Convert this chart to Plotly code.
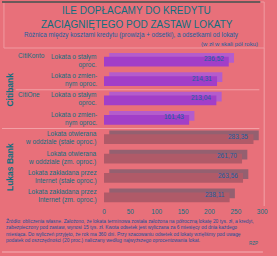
import plotly.graph_objects as go

categories = ["Lokata o stałym<br>oproc.", "Lokata o zmien-<br>nym oproc.",
              "Lokata o stałym<br>oproc.", "Lokata o zmien-<br>nym oproc.",
              "Lokata otwierana<br>w oddziale (stałe oproc.)", "Lokata otwierana<br>w oddziale (zm. oproc.)",
              "Lokata zakładana przez<br>Internet (stałe oproc.)", "Lokata zakładana przez<br>Internet (zm. oproc.)"]
values = [236.52, 214.31, 213.04, 161.43, 283.35, 261.70, 263.56, 238.11]
value_labels = ["236,52", "214,31", "213,04", "161,43", "283,35", "261,70", "263,56", "238,11"]
banks = ["Citibank"] * 4 + ["Lukas Bank"] * 4
products = ["CitiKonto", "", "CitiOne", "", "", "", "", ""]
x_ticks = [0, 50, 100, 150, 200, 250, 300]

BG = "#E8707A"
TEAL = "#0F6F80"
front = ["#A23EC8" if b == "Citibank" else "#B05A68" for b in banks]
side = ["#B45CCC" if b == "Citibank" else "#946070" for b in banks]

ids = list(range(len(categories)))
fig = go.Figure()
# depth (3D top/side) bar
fig.add_trace(go.Bar(y=ids, x=values, base=10, orientation="h", width=0.5, offset=-0.4,
                     marker=dict(color=side, line=dict(width=0)), hoverinfo="skip"))
fig.add_trace(go.Bar(y=ids, x=values, orientation="h", width=0.5, offset=-0.2,
                     marker=dict(color=front, line=dict(width=0)),
                     text=value_labels, textposition="none"))

fig.update_layout(
    width=277, height=256, margin=dict(l=0, r=0, t=0, b=0),
    paper_bgcolor=BG, plot_bgcolor=BG, showlegend=False, barmode="overlay",
    font=dict(family="Liberation Sans", color=TEAL, size=7),
    xaxis=dict(domain=[105/277, 268/277], range=[0, 300], tickvals=x_ticks,
               ticktext=[str(t) for t in x_ticks], showgrid=False, zeroline=False,
               showline=False, ticks="", tickfont=dict(size=6.5, color=TEAL)),
    yaxis=dict(domain=[1-206/256, 1-51/256], range=[7.5, -0.5], showticklabels=False,
               showgrid=False, zeroline=False),
)

ann = []
for i, (c, v, lab) in enumerate(zip(categories, values, value_labels)):
    ann.append(dict(x=100/277, xref="paper", y=i, yref="y", text=c, showarrow=False,
                    xanchor="right", yanchor="middle", align="right",
                    font=dict(size=6.5, color=TEAL)))
    ann.append(dict(x=v, xref="x", y=i - 0.1, yref="y", text=lab, showarrow=False,
                    xanchor="right", yanchor="middle", xshift=-3,
                    font=dict(size=6.5, color="#1560A0")))
    if products[i]:
        ann.append(dict(x=14/277, xref="paper", y=i - 0.25, yref="y", text=products[i],
                        showarrow=False, xanchor="left", yanchor="middle",
                        font=dict(size=6.5, color=TEAL)))

# rotated bank labels
for bank in ["Citibank", "Lukas Bank"]:
    idx = [i for i, b in enumerate(banks) if b == bank]
    ann.append(dict(x=8/277, xref="paper", y=(idx[0] + idx[-1]) / 2, yref="y", text="<b>" + bank + "</b>",
                    showarrow=False, textangle=-90, xanchor="center", yanchor="middle",
                    font=dict(size=8.5, color=TEAL)))

# header
ann += [
    dict(x=0.5, y=1 - 10/256, xref="paper", yref="paper", text="ILE DOPŁACAMY DO KREDYTU",
         showarrow=False, font=dict(size=10, color=TEAL), yanchor="middle"),
    dict(x=0.5, y=1 - 24/256, xref="paper", yref="paper", text="ZACIĄGNIĘTEGO POD ZASTAW LOKATY",
         showarrow=False, font=dict(size=10, color=TEAL), yanchor="middle"),
    dict(x=0.48, y=1 - 35/256, xref="paper", yref="paper",
         text="Różnica między kosztami kredytu (prowizja + odsetki), a odsetkami od lokaty",
         showarrow=False, font=dict(size=6.3, color="#1560A0"), yanchor="middle"),
    dict(x=266/277, y=1 - 44/256, xref="paper", yref="paper", text="(w zł w skali pół roku)",
         showarrow=False, font=dict(size=6, color="#1560A0"), xanchor="right", yanchor="middle"),
    dict(x=2/277, y=1 - 216/256, xref="paper", yref="paper", align="left",
         text=("Źródło: obliczenia własne. Założono, że lokata terminowa została założona na półroczną lokatę 20 tys. zł, a kredyt,<br>"
               "zabezpieczony pod zastaw, wynosi 15 tys. zł. Kwota odsetek jest wyliczana za 6 miesięcy od dnia każdego<br>"
               "miesiąca. Do wyliczeń przyjęto, że rok ma 360 dni. Przy szacowaniu odsetek od lokaty wzięliśmy pod uwagę<br>"
               "podatek od oszczędności (20 proc.) naliczany według najwyższego oprocentowania lokat."),
         showarrow=False, font=dict(size=4.9, color="#1A4F9A"), xanchor="left", yanchor="top"),
    dict(x=266/277, y=1 - 243/256, xref="paper", yref="paper", text="RZP",
         showarrow=False, font=dict(size=4.5, color=TEAL), xanchor="right", yanchor="middle"),
]
fig.update_layout(annotations=ann)

shapes = [
    dict(type="rect", xref="paper", yref="paper", x0=2/277, x1=270/277, y0=1-48/256, y1=1-2/256,
         line=dict(color="#F09AA0", width=1), fillcolor="rgba(0,0,0,0)"),
    dict(type="line", xref="paper", yref="paper", x0=0, x1=266/277, y0=1-2/256, y1=1-2/256,
         line=dict(color="#6A5A5A", width=2)),
    dict(type="line", xref="paper", yref="y", x0=0, x1=265/277, y0=3.5, y1=3.5,
         line=dict(color="#F2A0A6", width=1)),
    dict(type="line", xref="paper", yref="y", x0=14/277, x1=265/277, y0=1.5, y1=1.5,
         line=dict(color="#F2A0A6", width=1)),
    dict(type="line", xref="paper", yref="paper", x0=270/277, x1=270/277, y0=1-206/256, y1=1-48/256,
         line=dict(color="#F2A0A6", width=1)),
    dict(type="line", xref="paper", yref="paper", x0=0, x1=0.97, y0=1-252/256, y1=1-252/256,
         line=dict(color="#F5B0B5", width=1)),
]
fig.update_layout(shapes=shapes)

fig.write_html("out.html")
